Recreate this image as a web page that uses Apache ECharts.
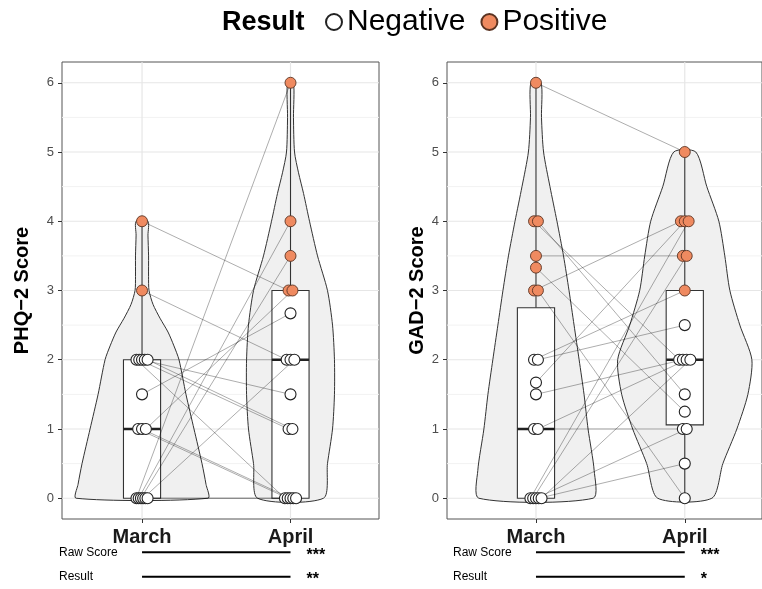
<!DOCTYPE html>
<html><head><meta charset="utf-8">
<script src="https://cdn.jsdelivr.net/npm/echarts@6/dist/echarts.min.js"></script>
<style>html,body{margin:0;padding:0;background:#fff}#c{width:762px;height:589px}</style>
</head><body><div id="c"></div>
<script>
// ---------- data ----------
const timepoints = ['March', 'April'];
const yTicks = [0, 1, 2, 3, 4, 5, 6];
const yMinorTicks = [0.5, 1.5, 2.5, 3.5, 4.5, 5.5];
const resultNames = ['Negative', 'Positive'];
const positiveCutoff = 3;
const sigRowLabels = ['Raw Score', 'Result'];

// PHQ-2: paired scores (participant i: March -> April)
const phqMarch = [4, 3, 2, 2, 2, 2, 2, 1.5, 1, 1, 1, 0, 0, 0, 0, 0, 0];
const phqApril = [3, 2, 0, 1, 1.5, 2, 1, 2.67, 0, 0, 3, 6, 4, 3.5, 2, 0, 0];
// GAD-2: paired scores
const gadMarch = [6, 4, 4, 3.5, 3.33, 3, 3, 2, 2, 1.67, 1.5, 1, 1, 0, 0, 0, 0, 0];
const gadApril = [5, 2, 1.5, 3.5, 1.25, 4, 0, 3, 2.5, 4, 2, 1, 2, 4, 3.5, 1, 0.5, 2];

// box stats [lower whisker, Q1, median, Q3, upper whisker]
const phqBoxMarch = [0, 0, 1, 2, 4];
const phqBoxApril = [0, 0, 2, 3, 6];
const gadBoxMarch = [0, 0, 1, 2.75, 6];
const gadBoxApril = [0, 1.06, 2, 3, 5];

// violin outlines: score levels and half-widths (x units)
const phqViolinMarchY = [0, 0.2, 0.5, 1, 1.5, 2, 2.2, 2.4, 2.6, 2.8, 3, 3.2, 3.5, 3.8, 4];
const phqViolinMarchW = [0.444, 0.431, 0.404, 0.350, 0.296, 0.249, 0.215, 0.175, 0.121, 0.074, 0.047, 0.044, 0.044, 0.040, 0.040];
const phqViolinAprilY = [0, 0.5, 1, 1.5, 2, 2.5, 3, 3.5, 4, 4.4, 4.7, 5, 5.5, 6];
const phqViolinAprilW = [0.222, 0.249, 0.283, 0.296, 0.296, 0.283, 0.249, 0.182, 0.128, 0.088, 0.054, 0.027, 0.020, 0.020];
const gadViolinMarchY = [0, 0.4, 1, 1.5, 2, 2.5, 3, 3.5, 4, 4.5, 5, 5.5, 6];
const gadViolinMarchW = [0.384, 0.391, 0.350, 0.323, 0.290, 0.256, 0.222, 0.185, 0.141, 0.094, 0.051, 0.037, 0.034];
const gadViolinAprilY = [0, 0.5, 1, 1.5, 2, 2.5, 3, 3.5, 4, 4.5, 5];
const gadViolinAprilW = [0.182, 0.256, 0.350, 0.424, 0.451, 0.370, 0.303, 0.269, 0.229, 0.148, 0.074];

// significance stars
const phqSig = ['***', '**'];
const gadSig = ['***', '*'];

// ---------- chart ----------
const FONT = '"Liberation Sans", Arial, Helvetica, sans-serif';
const ORANGE = '#EF8A60';

const panels = [
  { march: phqMarch, april: phqApril, title: 'PHQ\u22122 Score',
    box: [phqBoxMarch, phqBoxApril],
    violin: [[phqViolinMarchY, phqViolinMarchW], [phqViolinAprilY, phqViolinAprilW]],
    sig: phqSig, left: 62, width: 317, xmin: 0.461, xmax: 2.596, nameGap: 30 },
  { march: gadMarch, april: gadApril, title: 'GAD\u22122 Score',
    box: [gadBoxMarch, gadBoxApril],
    violin: [[gadViolinMarchY, gadViolinMarchW], [gadViolinAprilY, gadViolinAprilW]],
    sig: gadSig, left: 447, width: 315, xmin: 0.402, xmax: 2.519, nameGap: 17 }
];

function dodge(vals) {
  const groups = {};
  vals.forEach((v, i) => { (groups[v] = groups[v] || []).push(i); });
  const off = new Array(vals.length).fill(0);
  Object.values(groups).forEach(idx => {
    const n = idx.length; if (n < 2) return;
    const step = Math.min(0.026, 0.075 / (n - 1));
    idx.forEach((i, k) => { off[i] = (k - (n - 1) / 2) * step; });
  });
  return off;
}

const grids = [], xAxes = [], yAxes = [], series = [];
panels.forEach((P, p) => {
  grids.push({ left: P.left, top: 62, width: P.width, height: 457, show: true,
    backgroundColor: '#fff', borderColor: '#555', borderWidth: 1, containLabel: false });
  xAxes.push({ type: 'value', gridIndex: p, min: P.xmin, max: P.xmax,
    axisLine: { show: false, onZero: false }, splitLine: { show: false },
    axisTick: { show: true, customValues: [1, 2], length: 4, lineStyle: { color: '#333' } },
    axisLabel: { customValues: [1, 2], formatter: v => timepoints[Math.round(v) - 1],
      fontSize: 20, fontWeight: 'bold', color: '#1a1a1a', margin: 8, fontFamily: FONT } });
  yAxes.push({ type: 'value', gridIndex: p, min: -0.3, max: 6.3,
    name: P.title, nameLocation: 'middle', nameGap: P.nameGap, nameRotate: 90,
    nameTextStyle: { fontSize: 20, fontWeight: 'bold', color: '#000', fontFamily: FONT },
    axisLine: { show: false, onZero: false }, splitLine: { show: false },
    axisTick: { show: true, customValues: yTicks, length: 4, lineStyle: { color: '#333' } },
    axisLabel: { customValues: yTicks, fontSize: 13, color: '#4d4d4d', margin: 8, fontFamily: FONT } });

  // gridlines
  series.push({ type: 'custom', xAxisIndex: p, yAxisIndex: p, z: 1, silent: true,
    data: [[1, 0]],
    renderItem: (params, api) => {
      const cs = params.coordSys;
      const ch = [];
      yMinorTicks.forEach(v => { const y = api.coord([1, v])[1];
        ch.push({ type: 'line', shape: { x1: cs.x, y1: y, x2: cs.x + cs.width, y2: y }, style: { stroke: '#f2f2f2', lineWidth: 1 } }); });
      yTicks.forEach(v => { const y = api.coord([1, v])[1];
        ch.push({ type: 'line', shape: { x1: cs.x, y1: y, x2: cs.x + cs.width, y2: y }, style: { stroke: '#e6e6e6', lineWidth: 1.2 } }); });
      [1, 2].forEach(v => { const x = api.coord([v, 0])[0];
        ch.push({ type: 'line', shape: { x1: x, y1: cs.y, x2: x, y2: cs.y + cs.height }, style: { stroke: '#e6e6e6', lineWidth: 1.2 } }); });
      return { type: 'group', children: ch };
    } });

  // violins
  series.push({ type: 'custom', xAxisIndex: p, yAxisIndex: p, z: 2, silent: true,
    data: [[1, 0], [2, 1]],
    renderItem: (params, api) => {
      const k = params.dataIndex, c = k + 1;
      const ys = P.violin[k][0], ws = P.violin[k][1];
      const right = ys.map((y, i) => api.coord([c + ws[i], y]));
      const left = ys.map((y, i) => api.coord([c - ws[i], y])).reverse();
      return { type: 'polygon', shape: { points: right.concat(left), smooth: 0.25 },
        style: { fill: '#f0f0f0', stroke: '#333', lineWidth: 1 } };
    } });

  // boxplots
  series.push({ type: 'custom', xAxisIndex: p, yAxisIndex: p, z: 3, silent: true,
    data: [[1, 0], [2, 1]],
    renderItem: (params, api) => {
      const k = params.dataIndex, c = k + 1;
      const b = P.box[k], hw = 0.125;
      const pt = (x, y) => api.coord([x, y]);
      const top = pt(c, b[4]), q3 = pt(c, b[3]), q1 = pt(c, b[1]), bot = pt(c, b[0]);
      const tl = pt(c - hw, b[3]), br = pt(c + hw, b[1]);
      const ml = pt(c - hw, b[2]), mr = pt(c + hw, b[2]);
      const st = { stroke: '#333', lineWidth: 1.1 };
      return { type: 'group', children: [
        { type: 'line', shape: { x1: top[0], y1: top[1], x2: q3[0], y2: q3[1] }, style: st },
        { type: 'line', shape: { x1: q1[0], y1: q1[1], x2: bot[0], y2: bot[1] }, style: st },
        { type: 'rect', shape: { x: tl[0], y: tl[1], width: br[0] - tl[0], height: br[1] - tl[1] },
          style: { fill: '#fff', stroke: '#333', lineWidth: 1.1 } },
        { type: 'line', shape: { x1: ml[0], y1: ml[1], x2: mr[0], y2: mr[1] }, style: { stroke: '#222', lineWidth: 2.4 } }
      ] };
    } });

  const offM = dodge(P.march), offA = dodge(P.april);
  // paired lines
  series.push({ type: 'custom', xAxisIndex: p, yAxisIndex: p, z: 4, silent: true,
    data: P.march.map((m, i) => [1 + offM[i], m, 2 + offA[i], P.april[i]]),
    renderItem: (params, api) => {
      const a = api.coord([api.value(0), api.value(1)]), b = api.coord([api.value(2), api.value(3)]);
      return { type: 'line', shape: { x1: a[0], y1: a[1], x2: b[0], y2: b[1] },
        style: { stroke: 'rgba(0,0,0,0.32)', lineWidth: 1 } };
    } });

  // points
  const pts = [];
  P.march.forEach((v, i) => pts.push([1 + offM[i], v]));
  P.april.forEach((v, i) => pts.push([2 + offA[i], v]));
  series.push({ name: resultNames[0], type: 'scatter', xAxisIndex: p, yAxisIndex: p, z: 5,
    symbol: 'circle', symbolSize: 11,
    itemStyle: { color: '#fff', borderColor: '#222', borderWidth: 1.1, opacity: 1 },
    data: pts.filter(d => d[1] < positiveCutoff) });
  series.push({ name: resultNames[1], type: 'scatter', xAxisIndex: p, yAxisIndex: p, z: 6,
    symbol: 'circle', symbolSize: 11,
    itemStyle: { color: ORANGE, borderColor: '#5a3322', borderWidth: 0.9, opacity: 1 },
    data: pts.filter(d => d[1] >= positiveCutoff) });
});

// significance annotation grids
panels.forEach((P, p) => {
  const gi = p + 2;
  grids.push({ left: P.left, top: 540, width: P.width, height: 50, show: false });
  xAxes.push({ type: 'value', gridIndex: gi, min: P.xmin, max: P.xmax, show: false });
  yAxes.push({ type: 'value', gridIndex: gi, min: -0.5, max: 1.5, inverse: true, show: false });
  series.push({ type: 'custom', xAxisIndex: gi, yAxisIndex: gi, silent: true,
    data: sigRowLabels.map((r, i) => [1, i]),
    renderItem: (params, api) => {
      const r = params.dataIndex;
      const a = api.coord([1, r]), b = api.coord([2, r]);
      return { type: 'group', children: [
        { type: 'text', style: { text: sigRowLabels[r], x: a[0] - 83, y: a[1],
            align: 'left', verticalAlign: 'middle', fontSize: 12, fill: '#000', fontFamily: FONT } },
        { type: 'line', shape: { x1: a[0], y1: a[1], x2: b[0], y2: b[1] }, style: { stroke: '#000', lineWidth: 2 } },
        { type: 'text', style: { text: P.sig[r], x: b[0] + 16, y: a[1] + 3,
            align: 'left', verticalAlign: 'middle', fontSize: 16, fontWeight: 'bold', fill: '#000', fontFamily: FONT } }
      ] };
    } });
});

const chart = echarts.init(document.getElementById('c'));
chart.setOption({
  animation: false,
  textStyle: { fontFamily: FONT },
  title: { text: 'Result', left: 222, top: 9, padding: 0,
    textStyle: { fontSize: 27, fontWeight: 'bold', color: '#000', fontFamily: FONT } },
  legend: { data: resultNames, left: 325, top: 7, padding: 0, icon: 'circle',
    itemWidth: 16, itemHeight: 16, itemGap: 15,
    textStyle: { fontSize: 30, color: '#000', fontFamily: FONT } },
  grid: grids, xAxis: xAxes, yAxis: yAxes, series: series
});
</script></body></html>
